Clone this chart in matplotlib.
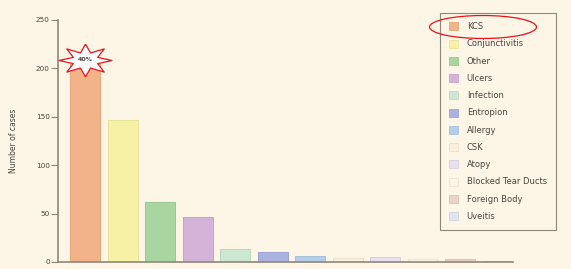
import numpy as np
import matplotlib.pyplot as plt
from matplotlib.patches import Patch, Ellipse

categories = ["KCS", "Conjunctivitis", "Other", "Ulcers", "Infection", "Entropion",
              "Allergy", "CSK", "Atopy", "Blocked Tear Ducts", "Foreign Body", "Uveitis"]
counts = [205, 147, 62, 47, 13, 10, 6, 4, 5, 3, 3, 1]
colors = ["#f2b389", "#f7f1a6", "#a9d6a0", "#d5b3d9", "#cde8d2", "#aab2e0",
          "#b3cfe8", "#fbeedb", "#e6e0ef", "#fdf3e3", "#ebd2c9", "#dfe5f1"]
edges = ["#e0a070", "#e6e090", "#90c088", "#c09cc8", "#b5d5bb", "#939ccc",
         "#9cbad6", "#e8dcc8", "#d2cce0", "#ece2d0", "#d8bcb2", "#c8d0e0"]
peak_label = "40%"

bg = "#fdf6e6"
grey = "#8f877c"
txt = "#4d4540"

fig = plt.figure(figsize=(5.71, 2.69), dpi=100, facecolor=bg)
ax = fig.add_axes([58 / 571, 1 - 262 / 269, (513 - 58) / 571, (262 - 20) / 269])
ax.set_facecolor(bg)

x = np.arange(len(categories))
ax.bar(x, counts, width=0.8, color=colors, edgecolor=edges, linewidth=0.6, zorder=2)

ax.set_xlim(-0.72, 11.41)
ax.set_ylim(0, 250)
ax.set_yticks([0, 50, 100, 150, 200, 250])
ax.set_xticks([])
ax.tick_params(axis="y", direction="out", length=5, width=0.8, color=grey,
               labelsize=5.2, labelcolor=txt, pad=1)
for s in ["top", "right"]:
    ax.spines[s].set_visible(False)
for s in ["left", "bottom"]:
    ax.spines[s].set_color(grey)
    ax.spines[s].set_linewidth(1.2)
ax.set_ylabel("Number of cases", fontsize=5.5, color=txt, labelpad=13)

# starburst over the KCS bar
ang = np.linspace(np.pi / 2, np.pi / 2 + 2 * np.pi, 17)[:-1]
rad = np.where(np.arange(16) % 2 == 0, 1.0, 0.5)
verts = np.column_stack([rad * np.cos(ang), 0.62 * rad * np.sin(ang)])
verts = np.vstack([verts, verts[:1]])
ax.plot([x[0]], [counts[0] + 4], marker=verts, markersize=38, markerfacecolor="white",
        markeredgecolor="#e8141c", markeredgewidth=0.9, linestyle="none", zorder=4,
        clip_on=False)
ax.text(x[0], counts[0] + 4, peak_label, ha="center", va="center", fontsize=4.5,
        color=txt, fontweight="bold", zorder=5)

handles = [Patch(facecolor=c, edgecolor=e, linewidth=0.5) for c, e in zip(colors, edges)]
leg = fig.legend(handles, categories, loc="upper left",
                 bbox_to_anchor=(440 / 571, 1 - 13 / 269), fontsize=6,
                 frameon=True, fancybox=False, edgecolor=grey, facecolor=bg,
                 framealpha=1, handlelength=1.1, handleheight=1.1,
                 labelspacing=0.99, borderpad=1.1, handletextpad=1.0,
                 borderaxespad=0)
for t in leg.get_texts():
    t.set_color(txt)
leg.get_frame().set_linewidth(0.8)

ell = Ellipse((483 / 571, 1 - 27 / 269), 107 / 571, 23 / 269,
              transform=fig.transFigure, fill=False,
              edgecolor="#e8141c", linewidth=0.9, zorder=10)
fig.add_artist(ell)

fig.savefig("out.png", dpi=100, facecolor=bg)
